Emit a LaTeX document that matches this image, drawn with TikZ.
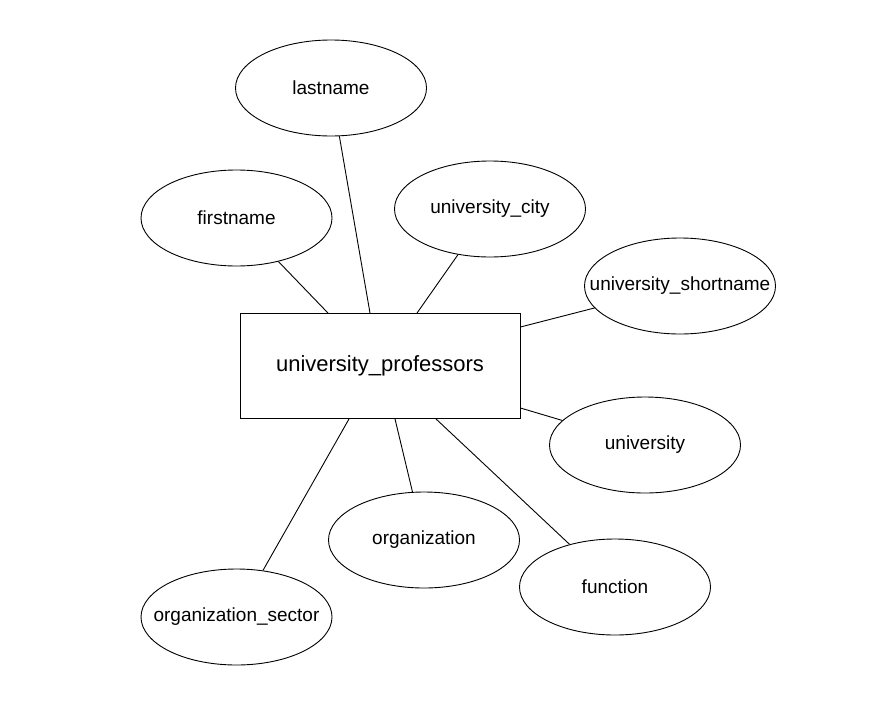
\documentclass[tikz,border=0pt]{standalone}
\usepackage{fontspec}
\setmainfont{Liberation Sans}
\usetikzlibrary{shapes.geometric}
\usetikzlibrary{positioning}
\tikzset{
    entity/.style={
           rectangle,
           draw=black, line width=0.9pt,
           minimum width=280pt,
           minimum height=105pt,
           inner sep=0pt,
           font=\fontsize{22}{26}\selectfont,
           text centered,
           },
    attr/.style={
           ellipse,
           draw=black, line width=0.9pt,
           minimum width=191pt,
           minimum height=96pt,
           inner xsep=-25pt,
           inner ysep=0pt,
           font=\fontsize{19}{23}\selectfont,
           text centered,
           },
}
\begin{document}
\begin{tikzpicture}[on grid,line width=0.9pt]
    \useasboundingbox (0,0) rectangle (885pt,-709pt);
    \node[entity] (prof) at (380pt,-366pt) {university\_professors};
    \node[attr] (lastname)     [above left=278pt and 49pt of prof]    {lastname};
    \node[attr] (firstname)    [above left=148pt and 143.5pt of prof] {firstname};
    \node[attr] (city)         [above right=157pt and 110pt of prof]  {university\_city};
    \node[attr] (shortname)    [above right=80pt and 300pt of prof]   {university\_shortname};
    \node[attr] (university)   [below right=79pt and 265pt of prof]   {university};
    \node[attr] (organization) [below right=174pt and 44pt of prof]   {organization};
    \node[attr] (function)     [below right=221pt and 235pt of prof]  {function};
    \node[attr] (sector)       [below left=251pt and 143.5pt of prof] {organization\_sector};
    \path[draw]
    ([xshift=-10pt]prof.north) edge (lastname)
    ([xshift=-52pt]prof.north) edge (firstname)
    ([xshift=37pt]prof.north)  edge (city)
    ([yshift=39pt]prof.east)   edge (shortname)
    ([yshift=-42pt]prof.east)  edge (university)
    ([xshift=15pt]prof.south)  edge (organization)
    ([xshift=56pt]prof.south)  edge (function)
    ([xshift=-31pt]prof.south) edge (sector);
\end{tikzpicture}
\end{document}
